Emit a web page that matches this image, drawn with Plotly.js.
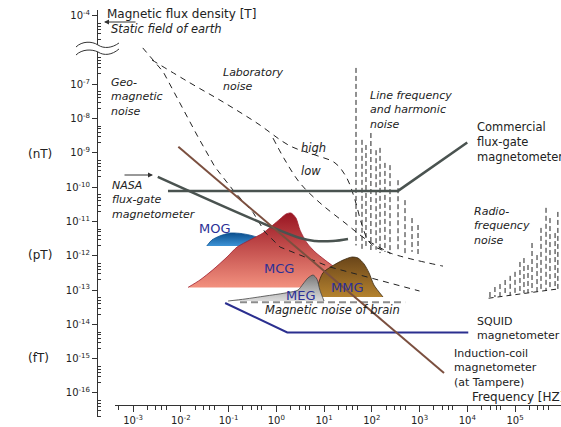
<!DOCTYPE html>
<html><head><meta charset="utf-8">
<script src="https://cdn.plot.ly/plotly-3.0.1.min.js"></script>
<style>html,body{margin:0;padding:0;background:#fff}#chart{width:561px;height:427px}</style>
</head><body><div id="chart"></div>
<script>
// ---------------- data: frequency [Hz], flux density [T] ----------------
const geoF = [1.6e-3, 4.3e-3, 2.3e-2, 5.2e-2, 0.124, 0.33, 0.58, 1.2, 13.4, 129, 1.0e3];
const geoB = [1.15e-6, 2.3e-7, 2.9e-9, 3.9e-10, 8.3e-11, 1.8e-11, 4.9e-12, 1.8e-12, 4.7e-13, 2.0e-13, 9.4e-14];
const labHighF = [2.5e-3, 1.56e-2, 7.7e-2, 0.395, 1.94, 6.5, 17, 30, 44.6, 62.5, 92, 241, 3.1e3];
const labHighB = [5.1e-7, 1.1e-7, 3.05e-8, 7.4e-9, 1.6e-9, 8.7e-10, 5.1e-10, 1.85e-10, 4.2e-11, 7.9e-12, 2.36e-12, 1.21e-12, 5.0e-13];
const labLowF = [0.855, 1.52, 3.14, 8.2, 27.5, 79, 241];
const labLowB = [2.7e-9, 6.2e-10, 1.32e-10, 3.5e-11, 9.1e-12, 2.9e-12, 1.21e-12];

const harmF = [46.8, 62.5, 75.7, 96, 123, 149, 189, 241, 355, 497, 697, 931];
const harmTop = [3.0e-7, 2.4e-9, 1.7e-9, 3.8e-9, 1.2e-9, 1.4e-9, 5.1e-10, 4.4e-10, 1.6e-10, 4.2e-11, 1.26e-11, 7.9e-12];
const harmBottom = [2.0e-12, 1.5e-12, 1.7e-12, 1.3e-12, 1.5e-12, 1.2e-12, 1.3e-12, 1.12e-12, 1.3e-12, 1.12e-12, 1.3e-12, 1.05e-12];

const radioF = [2.99e4, 3.8e4, 4.85e4, 6.2e4, 7.9e4, 1.0e5, 1.27e5, 1.54e5, 1.87e5, 2.27e5, 2.89e5, 3.5e5, 4.46e5, 5.4e5, 6.9e5, 7.9e5];
const radioTop = [8.8e-14, 1.23e-13, 1.5e-13, 1.97e-13, 2.6e-13, 3.4e-13, 6.6e-13, 8.6e-13, 5.4e-13, 2.36e-12, 1.05e-12, 6.5e-12, 2.5e-11, 1.26e-11, 4.6e-12, 1.9e-11];
const radioBottom = [6.0e-14, 6.3e-14, 6.6e-14, 6.9e-14, 7.1e-14, 7.4e-14, 7.8e-14, 8.1e-14, 8.3e-14, 8.6e-14, 9.0e-14, 9.3e-14, 9.7e-14, 1.0e-13, 1.05e-13, 1.08e-13];
const radioBaseF = [2.8e4, 7.9e5];
const radioBaseB = [5.8e-14, 1.08e-13];

const fluxgateF = [5.4e-3, 355, 1.0e4];
const fluxgateB = [7.8e-11, 7.8e-11, 2.0e-9];
const nasaF = [3.3e-3, 3.14, 6.5, 15.4, 31.8];
const nasaB = [2.0e-10, 3.3e-12, 2.7e-12, 2.7e-12, 3.1e-12];
const coilF = [8.9e-3, 3.26e3];
const coilB = [1.5e-9, 3.8e-16];
const squidF = [0.085, 1.7, 1.05e4];
const squidB = [4.2e-14, 5.8e-15, 5.8e-15];
const brainF = [0.174, 500];
const brainB = [4.4e-14, 4.4e-14];

const mogF = [3.5e-2, 4.5e-2, 6.6e-2, 0.107, 0.174, 0.282, 0.415, 0.415];
const mogB = [1.93e-12, 2.9e-12, 3.8e-12, 4.6e-12, 4.5e-12, 4.0e-12, 3.3e-12, 1.93e-12];
const mcgF = [1.42e-2, 2.53e-2, 4.7e-2, 9.3e-2, 0.151, 0.282, 0.528, 0.855, 1.2, 1.6, 2.04, 2.59, 3.14, 4.4, 6.5, 10.5, 17, 23.8, 27.5];
const mcgB = [1.2e-13, 1.97e-13, 3.9e-13, 9.2e-13, 1.8e-12, 2.9e-12, 4.6e-12, 7.9e-12, 1.18e-11, 1.65e-11, 1.77e-11, 1.26e-11, 5.6e-12, 2.36e-12, 1.29e-12, 7.5e-13, 4.4e-13, 1.97e-13, 1.2e-13];
const mmgF = [7.1, 7.5, 9.5, 14.7, 25, 38.6, 51.5, 68.8, 87.6, 111, 172];
const mmgB = [6.3e-14, 1.41e-13, 3.2e-13, 5.0e-13, 7.5e-13, 9.2e-13, 8.6e-13, 5.8e-13, 3.2e-13, 1.41e-13, 6.3e-14];
const megF = [9.8e-2, 0.222, 0.58, 1.52, 2.85, 3.63, 4.6, 5.9, 7.1, 8.2, 10];
const megB = [4.8e-14, 5.5e-14, 6.7e-14, 8.2e-14, 1.0e-13, 1.5e-13, 2.25e-13, 2.75e-13, 2.1e-13, 1.0e-13, 4.8e-14];

// axis ticks (the 10^-4 label sits at the 1e-5 position because of the axis break)
const yTickVals = [1e-5, 1e-7, 1e-8, 1e-9, 1e-10, 1e-11, 1e-12, 1e-13, 1e-14, 1e-15, 1e-16];
const yTickText = ['10<sup>-4</sup>', '10<sup>-7</sup>', '10<sup>-8</sup>', '10<sup>-9</sup>', '10<sup>-10</sup>', '10<sup>-11</sup>', '10<sup>-12</sup>', '10<sup>-13</sup>', '10<sup>-14</sup>', '10<sup>-15</sup>', '10<sup>-16</sup>'];
const xTickVals = [1e-3, 1e-2, 1e-1, 1, 10, 100, 1e3, 1e4, 1e5];
const xTickText = ['10<sup>-3</sup>', '10<sup>-2</sup>', '10<sup>-1</sup>', '10<sup>0</sup>', '10<sup>1</sup>', '10<sup>2</sup>', '10<sup>3</sup>', '10<sup>4</sup>', '10<sup>5</sup>'];

// ---------------- layout helpers ----------------
const W = 561, H = 427, ML = 97, MR = 0, MT = 10, MB = 10;
const PW = W - ML - MR, PH = H - MT - MB;
const px = x => (x - ML) / PW;
const py = y => (H - MB - y) / PH;
const FONT = 'DejaVu Sans, Verdana, sans-serif';
const TXT = '#222';

const yMinor = [];
for (let d = -17; d <= -5; d++) for (const m of [2, 3, 4, 5, 6]) yMinor.push(m * Math.pow(10, d));
const xMinor = [];
for (let d = -4; d <= 5; d++) for (const m of [2, 3, 4, 5]) xMinor.push(m * Math.pow(10, d));

const traces = [];
function blob(xs, ys, bottom, top, edge) {
  return {x: xs, y: ys, mode: 'lines', fill: 'toself',
    line: {color: edge, width: 0.8, shape: 'spline', smoothing: 0.7},
    fillgradient: {type: 'vertical', colorscale: [[0, bottom], [1, top]]},
    hoverinfo: 'skip', showlegend: false};
}
function line(xs, ys, color, width, dash, shape) {
  return {x: xs, y: ys, mode: 'lines', line: {color: color, width: width, dash: dash || 'solid', shape: shape || 'linear'},
    hoverinfo: 'skip', showlegend: false};
}
function sticks(fs, tops, bots) {
  const x = [], y = [];
  fs.forEach((f, i) => { x.push(f, f, null); y.push(tops[i], bots[i], null); });
  return {x: x, y: y, mode: 'lines', connectgaps: false, line: {color: '#222', width: 1, dash: '5px,3px'},
    hoverinfo: 'skip', showlegend: false};
}

traces.push(blob(mogF, mogB, '#3d93d6', '#0b4f8e', '#0b4f8e'));
traces.push(blob(mcgF, mcgB, '#f2907e', '#991522', '#a02030'));
traces.push(blob(mmgF, mmgB, '#b4822f', '#6a4519', '#3a2810'));
traces.push(blob(megF, megB, '#dcdcdc', '#7a7a7a', '#444'));
traces.push(line(brainF, brainB, '#8c8c8c', 2, '7px,4px'));
traces.push(line(geoF, geoB, '#222', 1, '6px,5px'));
traces.push(line(labHighF, labHighB, '#222', 1, '6px,5px', 'spline'));
traces.push(line(labLowF, labLowB, '#222', 1, '6px,5px', 'spline'));
traces.push(sticks(harmF, harmTop, harmBottom));
traces.push(sticks(radioF, radioTop, radioBottom));
traces.push(line(radioBaseF, radioBaseB, '#222', 1, '5px,4px'));
traces.push(line(fluxgateF, fluxgateB, '#4a5350', 2.5));
traces.push(line(nasaF, nasaB, '#4a5350', 2.5, 'solid', 'spline'));
traces.push(line(squidF, squidB, '#2b2f8f', 2));
traces.push(line(coilF, coilB, '#7b4f3f', 2));

// ---------------- text ----------------
const ann = [];
// one annotation per text block; (x, yMid) = left edge and vertical centre in page pixels
function lab(lines, x, yMid, size, opts) {
  ann.push(Object.assign({
    text: lines.join('<br>'), xref: 'paper', yref: 'paper', x: px(x), y: py(yMid),
    xanchor: 'left', yanchor: 'middle', align: 'left', showarrow: false, borderpad: 0,
    font: {family: FONT, size: size, color: TXT}
  }, opts || {}));
}
const it = s => '<i>' + s + '</i>';
lab(['Magnetic flux density [T]'], 106, 14, 12);
lab([it('Static field of earth')], 110, 29, 11.5);
lab([it('Geo-'), it('magnetic'), it('noise')], 110, 97, 11);
lab([it('Laboratory'), it('noise')], 222, 80, 11);
lab([it('Line frequency'), it('and harmonic'), it('noise')], 369, 110, 11);
lab([it('high')], 300, 148, 11.5);
lab([it('low')], 300, 171, 11.5);
lab(['Commercial', 'flux-gate', 'magnetometer'], 476, 142, 11.5);
lab([it('NASA'), it('flux-gate'), it('magnetometer')], 111, 200, 11);
lab([it('Radio-'), it('frequency'), it('noise')], 473, 226, 11);
lab([it('Magnetic noise of brain')], 264, 310, 11.5);
lab(['SQUID', 'magnetometer'], 476, 328, 11);
lab(['Induction-coil', 'magnetometer', '(at Tampere)'], 453, 368, 11);
lab(['Frequency [HZ]'], 471, 397, 12);
lab(['(nT)'], 27, 154, 12);
lab(['(pT)'], 27, 255, 12);
lab(['(fT)'], 27, 358, 12);
const SIG = {xanchor: 'center', font: {family: FONT, size: 13, color: '#2b3096'}};
lab(['MOG'], 215, 228, 13, SIG);
lab(['MCG'], 279, 268, 13, SIG);
lab(['MMG'], 347, 287, 13, SIG);
lab(['MEG'], 301, 296, 13, SIG);

// arrows
function arrow(hx, hy, ax, ay) {
  ann.push({text: '', xref: 'paper', yref: 'paper', x: px(hx), y: py(hy), ax: ax, ay: ay,
    showarrow: true, arrowhead: 2, arrowsize: 1, arrowwidth: 1, arrowcolor: '#333'});
}
arrow(104, 22, 33, 0);
arrow(153, 175, -30, 0);

// axis break waves (pixel paths converted to paper coordinates)
function pathStr(cmds) {
  return cmds.map(c => c[0] + ' ' + c.slice(1).map(p => px(p[0]).toFixed(5) + ',' + py(p[1]).toFixed(5)).join(' ')).join(' ');
}
const waveTop = [['M', [76, 47]], ['C', [82, 41], [92, 41], [98, 45]], ['C', [104, 49], [112, 48], [119, 43]]];
const waveBot = [['M', [76, 55]], ['C', [82, 49], [92, 49], [98, 52]], ['C', [104, 56], [112, 55], [119, 49]]];
const fillPath = pathStr([['M', [76, 47]], ['C', [82, 41], [92, 41], [98, 45]], ['C', [104, 49], [112, 48], [119, 43]],
  ['L', [119, 49]], ['C', [112, 55], [104, 56], [98, 52]], ['C', [92, 49], [82, 49], [76, 55]]]) + ' Z';
const shapes = [
  {type: 'path', xref: 'paper', yref: 'paper', path: fillPath, fillcolor: '#fff', line: {width: 0}, layer: 'above'},
  {type: 'path', xref: 'paper', yref: 'paper', path: pathStr(waveTop), line: {color: '#333', width: 1}, layer: 'above'},
  {type: 'path', xref: 'paper', yref: 'paper', path: pathStr(waveBot), line: {color: '#333', width: 1}, layer: 'above'}
];

const layout = {
  width: W, height: H, margin: {l: ML, r: MR, t: MT, b: MB},
  paper_bgcolor: '#fff', plot_bgcolor: 'rgba(0,0,0,0)', showlegend: false,
  font: {family: FONT, color: TXT},
  xaxis: {type: 'log', range: [-3.377, 5.963], domain: [px(115), 1], anchor: 'free', position: py(405),
    showline: true, linecolor: '#333', linewidth: 1, showgrid: false, zeroline: false,
    tickmode: 'array', tickvals: xTickVals, ticktext: xTickText, ticks: 'outside', ticklen: 6, tickcolor: '#333',
    tickfont: {family: FONT, size: 10, color: TXT},
    minor: {tickmode: 'array', tickvals: xMinor, ticks: 'outside', ticklen: 4, tickcolor: '#333', showgrid: false}},
  yaxis: {type: 'log', range: [-16.70, -4.834], domain: [0, 1], anchor: 'free', position: 0,
    showline: true, linecolor: '#333', linewidth: 1, showgrid: false, zeroline: false,
    tickmode: 'array', tickvals: yTickVals, ticktext: yTickText, ticks: 'outside', ticklen: 5, tickcolor: '#333',
    tickfont: {family: FONT, size: 10, color: TXT},
    minor: {tickmode: 'array', tickvals: yMinor, ticks: 'inside', ticklen: 3, tickcolor: '#333', showgrid: false}},
  annotations: ann, shapes: shapes
};
Plotly.newPlot('chart', traces, layout, {staticPlot: true, displayModeBar: false});
</script></body></html>
